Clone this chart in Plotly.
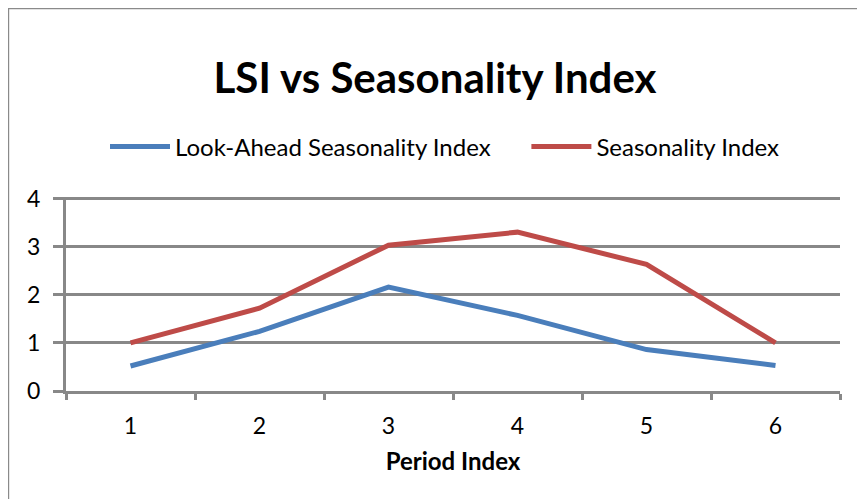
import plotly.graph_objects as go

# data
periods = ['1', '2', '3', '4', '5', '6']
look_ahead_si = [0.52, 1.24, 2.16, 1.57, 0.86, 0.53]
seasonality_si = [1.00, 1.72, 3.03, 3.30, 2.63, 1.00]

FONT = 'Lato'
GRID = '#888888'

fig = go.Figure()

fig.add_trace(go.Scatter(x=periods, y=look_ahead_si, mode='lines',
                         name='Look-Ahead Seasonality Index\u00a0\u00a0\u00a0\u00a0\u00a0',
                         line=dict(color='#4a7ebb', width=5)))
fig.add_trace(go.Scatter(x=periods, y=seasonality_si, mode='lines',
                         name='Seasonality Index',
                         line=dict(color='#be4b48', width=5)))

# page shows the figure offset by 8px (body margin), so everything is
# placed 8px up/left of where it sits in the reference
L, R, T, B = 58, 33, 189, 116
pw, ph = 865 - L - R, 499 - T - B

fig.update_layout(
    width=865, height=499,
    margin=dict(l=L, r=R, t=T, b=B, autoexpand=False),
    paper_bgcolor='white', plot_bgcolor='white',
    font=dict(family=FONT, color='black'),
    title=dict(text='<b>LSI vs Seasonality Index</b>', x=(435 - 8) / 865,
               xanchor='center', y=1 - 70 / 499, yanchor='middle',
               font=dict(size=42, family=FONT, color='black')),
    legend=dict(orientation='h', x=(445 - 66) / pw, xanchor='center',
                y=1 + (T - 139) / ph, yanchor='middle',
                font=dict(size=24, family=FONT), itemwidth=60,
                bgcolor='rgba(0,0,0,0)'),
    showlegend=True,
)

fig.update_xaxes(type='category', tickson='boundaries', ticks='outside',
                 ticklen=6, tickwidth=3, tickcolor=GRID,
                 showline=True, linecolor=GRID, linewidth=3,
                 showgrid=False, tickfont=dict(size=23, family=FONT),
                 ticklabelstandoff=12,
                 title=dict(text='<b>Period Index</b>', standoff=16,
                            font=dict(size=24, family=FONT)),
                 range=[-0.5, 5.5])
fig.update_yaxes(range=[0, 4.03], tickvals=[0, 1, 2, 3, 4], ticks='outside',
                 ticklen=10, tickwidth=3, tickcolor=GRID, showline=True,
                 linecolor=GRID, linewidth=3, showgrid=True, gridcolor=GRID,
                 gridwidth=3, zeroline=False, ticklabelstandoff=8,
                 tickfont=dict(size=23, family=FONT))

# outer chart border
fig.add_shape(type='rect', xref='paper', yref='paper',
              x0=(0.6 - L) / pw, x1=(880 - L) / pw,
              y0=(383 - 520) / ph, y1=(383 - 0.6) / ph,
              line=dict(color='#8a8a8a', width=1.2), layer='below')

fig.write_html("out.html")
